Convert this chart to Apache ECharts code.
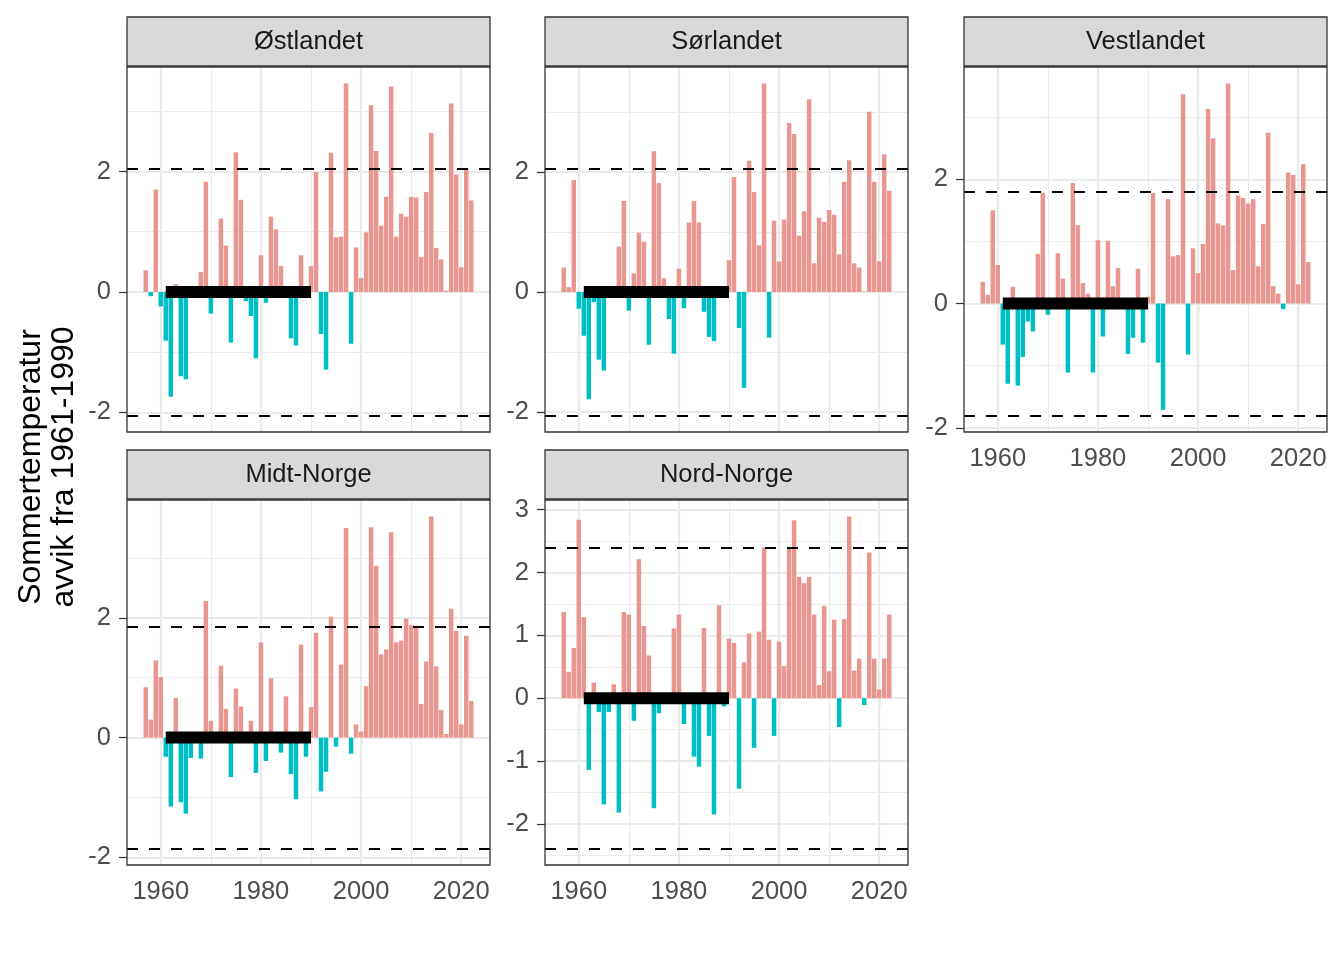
<!DOCTYPE html>
<html><head><meta charset="utf-8">
<script src="https://cdn.jsdelivr.net/npm/echarts@6/dist/echarts.min.js"></script>
<style>html,body{margin:0;padding:0;background:#fff}#c{width:1344px;height:960px}</style>
</head><body><div id="c"></div>
<script>
const years = [1957,1958,1959,1960,1961,1962,1963,1964,1965,1966,1967,1968,1969,1970,1971,1972,1973,1974,1975,1976,1977,1978,1979,1980,1981,1982,1983,1984,1985,1986,1987,1988,1989,1990,1991,1992,1993,1994,1995,1996,1997,1998,1999,2000,2001,2002,2003,2004,2005,2006,2007,2008,2009,2010,2011,2012,2013,2014,2015,2016,2017,2018,2019,2020,2021,2022];

const ostlandet = [0.36,-0.07,1.70,-0.24,-0.81,-1.74,0.13,-1.40,-1.45,0.04,0.03,0.33,1.83,-0.36,-0.03,1.22,0.77,-0.84,2.32,1.53,-0.15,-0.40,-1.10,0.61,-0.18,1.25,1.04,0.43,0.03,-0.77,-0.89,0.61,-0.03,0.43,
1.99,-0.70,-1.29,2.31,0.91,0.92,3.46,-0.86,0.74,0.23,0.99,3.10,2.34,1.10,1.58,3.41,0.92,1.30,1.25,1.58,1.57,0.58,1.66,2.64,0.73,0.54,0.02,3.13,1.95,0.41,2.06,1.52];

const sorlandet = [0.41,0.08,1.87,-0.28,-0.73,-1.79,-0.17,-1.13,-1.31,0.03,-0.03,0.76,1.52,-0.31,0.31,0.99,0.84,-0.88,2.35,1.82,0.23,-0.45,-1.03,0.39,-0.27,1.16,1.52,1.16,-0.33,-0.75,-0.82,0.03,-0.03,0.53,
1.92,-0.60,-1.60,2.19,1.67,0.78,3.48,-0.76,1.19,0.51,1.21,2.82,2.64,0.94,1.35,3.22,0.48,1.24,1.17,1.37,1.29,0.63,1.84,2.20,0.48,0.41,0.01,3.01,1.84,0.51,2.30,1.69];

const vestlandet = [0.35,0.14,1.50,0.62,-0.66,-1.29,0.27,-1.32,-0.86,-0.29,-0.45,0.80,1.78,-0.18,0.03,0.81,0.40,-1.11,1.94,1.26,0.33,0.16,-1.11,1.02,-0.53,1.01,0.28,0.57,-0.03,-0.81,-0.55,0.56,-0.63,0.11,
1.78,-0.95,-1.71,1.68,0.76,0.78,3.37,-0.82,0.89,0.49,0.96,3.13,2.66,1.29,1.26,3.54,0.54,1.74,1.70,1.61,1.68,0.60,1.28,2.75,0.28,0.16,-0.09,2.11,2.07,0.31,2.24,0.67];

const midtnorge = [0.84,0.30,1.29,1.01,-0.32,-1.15,0.66,-1.08,-1.27,-0.34,0.03,-0.35,2.28,0.28,-0.03,1.20,0.48,-0.66,0.82,0.52,0.03,0.28,-0.59,1.59,-0.39,0.99,0.03,-0.25,0.69,-0.61,-1.03,1.55,-0.32,0.51,
1.75,-0.90,-0.57,2.02,-0.15,1.22,3.50,-0.27,0.22,0.10,0.86,3.51,2.87,1.39,1.47,3.43,1.59,1.62,1.99,1.88,1.87,0.56,1.27,3.69,1.19,0.46,0.06,2.15,1.78,0.22,1.70,0.61];

const nordnorge = [1.37,0.42,0.80,2.84,1.29,-1.14,0.25,-0.22,-1.69,-0.22,0.22,-1.82,1.37,1.33,-0.36,2.21,1.15,0.68,-1.75,-0.24,0.03,-0.03,1.11,1.33,-0.41,0.03,-0.93,-1.09,1.12,-0.60,-1.85,1.48,-0.13,0.95,
0.88,-1.44,0.57,1.03,-0.79,1.06,2.40,0.93,-0.60,0.90,0.51,2.40,2.83,1.93,1.83,1.93,1.33,0.21,1.47,0.43,1.25,-0.46,1.26,2.89,0.44,0.63,-0.11,2.32,0.63,0.14,0.63,1.33];

const regions = ['Østlandet','Sørlandet','Vestlandet','Midt-Norge','Nord-Norge'];
const regionValues = [ostlandet, sorlandet, vestlandet, midtnorge, nordnorge];
const thresholds = [2.05, 2.06, 1.80, 1.85, 2.39];
const refPeriod = [1961, 1990];
const xTicks = [1960, 1980, 2000, 2020];
const xMinor = [1970, 1990, 2010];
const yTicksStd = [-2, 0, 2];
const yMinorStd = [-1, 1, 3];
const yTicksNN = [-2, -1, 0, 1, 2, 3];
const yMinorNN = [-2.5, -1.5, -0.5, 0.5, 1.5, 2.5];
const yTitle = ['Sommertemperatur', 'avvik fra 1961-1990'];

const POS = '#E8968F', NEG = '#00BFC4';
const FONT = '"Liberation Sans", Arial, Helvetica, sans-serif';
const TICKFS = 25.5, TITLEFS = 32;
const panels = [
  {l:127, t:67, xlab:false}, {l:545, t:67, xlab:false}, {l:964, t:67, xlab:true},
  {l:127, t:500, xlab:true}, {l:545, t:500, xlab:true}
];
const PW = 363, PH = 365, STRIP = 49;

const xLo = years[0] - 0.45, xHi = years[years.length-1] + 0.45;
const xPad = (xHi - xLo) * 0.05;
const xMin = xLo - xPad, xMax = xHi + xPad;

const grids = [], xAxes = [], yAxes = [], series = [], graphics = [];

panels.forEach((p, i) => {
  const vals = regionValues[i], th = thresholds[i];
  const lo = Math.min(0, -th, ...vals), hi = Math.max(0, th, ...vals);
  const pad = (hi - lo) * 0.05;
  const yTicks = i === 4 ? yTicksNN : yTicksStd;
  const yMinor = i === 4 ? yMinorNN : yMinorStd;
  grids.push({left: p.l, top: p.t, width: PW, height: PH, show: true, backgroundColor: '#fff', borderWidth: 0});
  xAxes.push({
    type: 'value', gridIndex: i, min: xMin, max: xMax,
    axisLine: {show: false}, splitLine: {show: false},
    axisTick: {show: p.xlab, customValues: xTicks, length: 8, lineStyle: {color: '#333', width: 1.2}},
    axisLabel: {show: p.xlab, customValues: xTicks, margin: 14, fontSize: TICKFS, color: '#4D4D4D', fontFamily: FONT,
      formatter: v => String(v)}
  });
  yAxes.push({
    type: 'value', gridIndex: i, min: lo - pad, max: hi + pad,
    axisLine: {show: false}, splitLine: {show: false},
    axisTick: {show: true, customValues: yTicks, length: 8, lineStyle: {color: '#333', width: 1.2}},
    axisLabel: {show: true, customValues: yTicks, margin: 16, fontSize: TICKFS, color: '#4D4D4D', fontFamily: FONT,
      formatter: v => String(v)}
  });
  const gl = (arr, key, w) => arr.map(v => ({[key]: v, lineStyle: {color: '#EBEBEB', width: w, type: 'solid'}}));
  series.push({
    type: 'line', xAxisIndex: i, yAxisIndex: i, data: [], silent: true, z: 1,
    markLine: {
      silent: true, z: 1, symbol: ['none','none'], label: {show: false}, animation: false,
      emphasis: {disabled: true},
      data: [...gl(xMinor,'xAxis',1.1), ...gl(yMinor,'yAxis',1.1), ...gl(xTicks,'xAxis',2.2), ...gl(yTicks,'yAxis',2.2)]
    }
  });
  series.push({
    type: 'bar', xAxisIndex: i, yAxisIndex: i, barWidth: 4.5, z: 2, animation: false,
    data: years.map((y, k) => [y, vals[k]]),
    itemStyle: {color: pr => pr.value[1] >= 0 ? POS : NEG}
  });
  series.push({
    type: 'line', xAxisIndex: i, yAxisIndex: i, data: [], silent: true, z: 5,
    markLine: {
      silent: true, z: 5, symbol: ['none','none'], label: {show: false}, animation: false,
      emphasis: {disabled: true},
      lineStyle: {type: [11, 11], color: '#000', width: 2},
      data: [{yAxis: th}, {yAxis: -th}]
    }
  });
  series.push({
    type: 'line', xAxisIndex: i, yAxisIndex: i, z: 6, symbol: 'none', silent: true, animation: false,
    data: [[refPeriod[0], 0], [refPeriod[1], 0]],
    lineStyle: {color: '#000', width: 12, cap: 'butt'}
  });
  graphics.push({type: 'rect', z: 100, shape: {x: p.l, y: p.t, width: PW, height: PH},
    style: {fill: 'none', stroke: '#333', lineWidth: 1.3}, silent: true});
  graphics.push({type: 'rect', z: 100, shape: {x: p.l, y: p.t - STRIP - 1, width: PW, height: STRIP},
    style: {fill: '#D9D9D9', stroke: '#333', lineWidth: 1.3}, silent: true});
  graphics.push({type: 'text', z: 101, x: p.l + PW/2, y: p.t - STRIP/2 - 1, silent: true,
    style: {text: regions[i], fontSize: TICKFS, fontFamily: FONT, fill: '#1A1A1A',
      align: 'center', verticalAlign: 'middle', textAlign: 'center', textVerticalAlign: 'middle'}});
});

graphics.push({type: 'text', x: 31, y: 467, rotation: Math.PI/2, silent: true,
  style: {text: yTitle[0], fontSize: TITLEFS, fontFamily: FONT, fill: '#000',
    align: 'center', verticalAlign: 'middle', textAlign: 'center', textVerticalAlign: 'middle'}});
graphics.push({type: 'text', x: 64, y: 467, rotation: Math.PI/2, silent: true,
  style: {text: yTitle[1], fontSize: TITLEFS, fontFamily: FONT, fill: '#000',
    align: 'center', verticalAlign: 'middle', textAlign: 'center', textVerticalAlign: 'middle'}});

const chart = echarts.init(document.getElementById('c'), null, {renderer: 'canvas'});
chart.setOption({
  animation: false,
  backgroundColor: '#fff',
  grid: grids, xAxis: xAxes, yAxis: yAxes, series: series, graphic: graphics
});
</script></body></html>
